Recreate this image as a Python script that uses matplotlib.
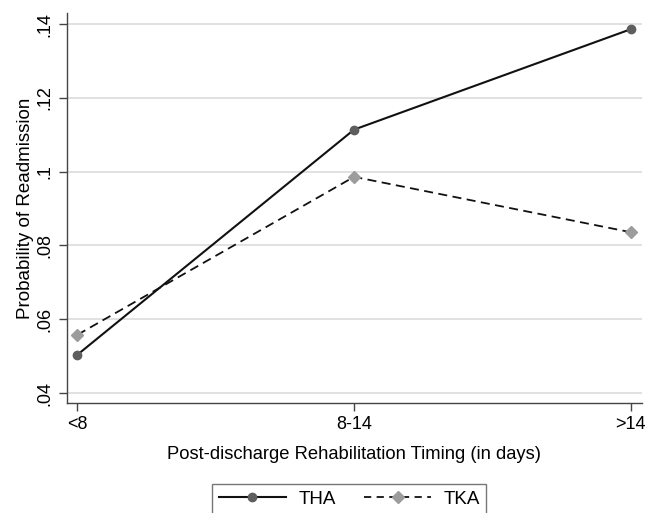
import matplotlib
matplotlib.use("Agg")
import matplotlib.pyplot as plt
from matplotlib.lines import Line2D

plt.rcParams['font.family'] = ['Liberation Sans', 'DejaVu Sans']

# data
timing = ['<8', '8-14', '>14']
tha = [0.0504, 0.1114, 0.1386]
tka = [0.0558, 0.0986, 0.0836]
yticks = [0.04, 0.06, 0.08, 0.10, 0.12, 0.14]
ytick_labels = ['.04', '.06', '.08', '.1', '.12', '.14']

fig = plt.figure(figsize=(6.46, 5.13), dpi=100)
ax = fig.add_axes([0.1032, 0.2144, 0.8906, 0.7602])

x = range(len(timing))
ax.plot(x, tha, '-', color='#111111', linewidth=1.5, marker='o', markersize=6,
        markerfacecolor='#5e5e5e', markeredgecolor='#5e5e5e', zorder=3)
ax.plot(x, tka, '--', color='#111111', linewidth=1.3, marker='D', markersize=6.5,
        markerfacecolor='#9c9c9c', markeredgecolor='#9c9c9c', zorder=3,
        dashes=(5, 3))

ax.set_xlim(-0.039, 2.041)
ax.set_ylim(0.0373, 0.143)
ax.set_xticks(list(x))
ax.set_xticklabels(timing, fontsize=13)
ax.set_yticks(yticks)
ax.set_yticklabels(ytick_labels, fontsize=13, rotation=90, va='center')
ax.yaxis.grid(True, color='#dedede', linewidth=1.3)
ax.set_axisbelow(True)

for s in ['top', 'right']:
    ax.spines[s].set_visible(False)
for s in ['left', 'bottom']:
    ax.spines[s].set_color('#444444')
    ax.spines[s].set_linewidth(1.0)
ax.tick_params(direction='out', length=5.5, color='#444444', width=1, pad=4)

ax.set_xlabel('Post-discharge Rehabilitation Timing (in days)', fontsize=13.2, labelpad=9)
ax.set_ylabel('Probability of Readmission', fontsize=13.5, labelpad=2)

handles = [
    Line2D([], [], color='#111111', linewidth=1.5, marker='o', markersize=6,
           markerfacecolor='#5e5e5e', markeredgecolor='#5e5e5e'),
    Line2D([], [], color='#111111', linewidth=1.3, linestyle='--', dashes=(4, 3), marker='D',
           markersize=6.5, markerfacecolor='#9c9c9c', markeredgecolor='#9c9c9c'),
]
leg = fig.legend(handles, ['THA', 'TKA'], loc='upper left',
                 bbox_to_anchor=(212 / 646, 1 - 484 / 513), ncol=2, fontsize=13.5,
                 frameon=True, fancybox=False, handlelength=3.6, columnspacing=1.5,
                 borderpad=0.35, handletextpad=0.65, borderaxespad=0)
leg.get_frame().set_edgecolor('#555555')
leg.get_frame().set_linewidth(1.0)

fig.savefig('out.png', dpi=100)
